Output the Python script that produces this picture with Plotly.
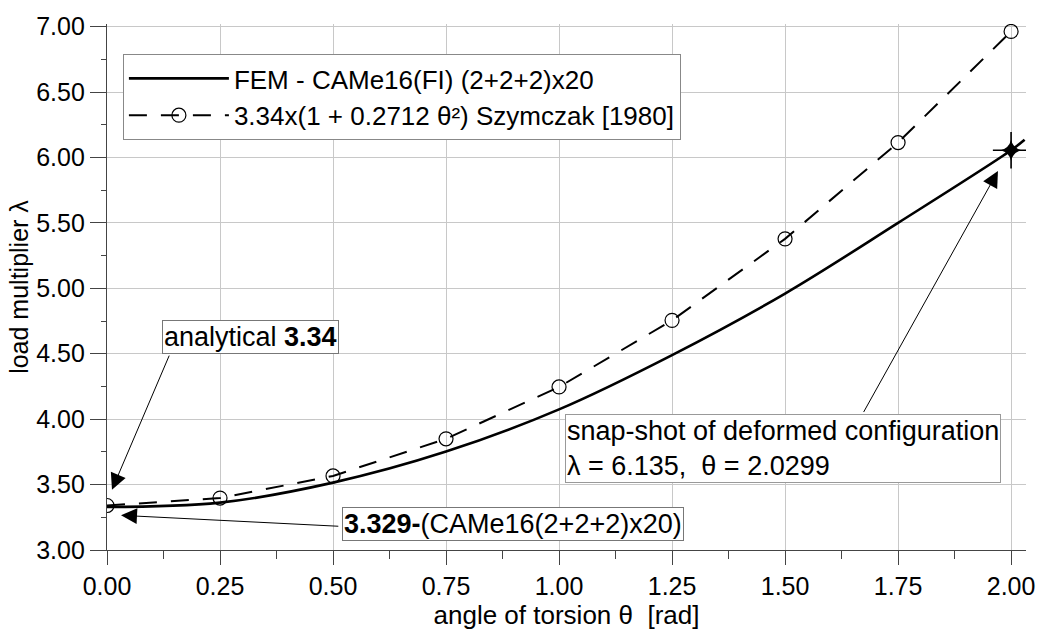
import plotly.graph_objects as go

# ---- data ----
fem_theta = [0.0, 0.25, 0.5, 0.75, 1.0, 1.25, 1.5, 1.75, 2.0, 2.0299]
fem_lambda = [3.329, 3.362, 3.515, 3.752, 4.075, 4.49, 4.96, 5.50, 6.055, 6.135]

szy_theta = [0.0, 0.25, 0.5, 0.75, 1.0, 1.25, 1.5, 1.75, 2.0]
szy_lambda = [3.340, 3.397, 3.566, 3.850, 4.246, 4.755, 5.378, 6.114, 6.963]

star_theta = [2.0]
star_lambda = [6.055]

x_ticks = [0.0, 0.25, 0.5, 0.75, 1.0, 1.25, 1.5, 1.75, 2.0]
x_ticklabels = ["0.00", "0.25", "0.50", "0.75", "1.00", "1.25", "1.50", "1.75", "2.00"]
y_ticks = [3.0, 3.5, 4.0, 4.5, 5.0, 5.5, 6.0, 6.5, 7.0]
y_ticklabels = ["3.00", "3.50", "4.00", "4.50", "5.00", "5.50", "6.00", "6.50", "7.00"]

FONT = "Liberation Sans, Arial, sans-serif"

fig = go.Figure()

fig.add_trace(go.Scatter(
    x=fem_theta, y=fem_lambda, mode="lines", line_shape="spline",
    line=dict(color="black", width=2.6),
    name="FEM - CAMe16(FI) (2+2+2)x20",
))
fig.add_trace(go.Scatter(
    x=szy_theta, y=szy_lambda, mode="lines+markers",
    line=dict(color="black", width=2, dash="18px,14px"),
    marker=dict(symbol="circle-open", size=14, color="black", line=dict(width=1.2)),
    name="3.34x(1 + 0.2712 θ²) Szymczak [1980]",
))
fig.add_trace(go.Scatter(
    x=star_theta, y=star_lambda, mode="markers",
    marker=dict(symbol="star-diamond", size=15, color="black"),
    showlegend=False, hoverinfo="skip",
))
fig.add_trace(go.Scatter(
    x=star_theta, y=star_lambda, mode="markers",
    marker=dict(symbol="cross-thin-open", size=26, color="black", line=dict(width=1.6, color="black")),
    showlegend=False,
))

ann_font = dict(family=FONT, size=27, color="black")

# boxes
fig.add_annotation(x=0.121, y=4.626, xref="x", yref="y", xanchor="left", yanchor="middle",
                   text="analytical <b>3.34</b>", showarrow=False, font=ann_font,
                   bgcolor="white", bordercolor="#777", borderwidth=1, borderpad=1)
fig.add_annotation(x=0.520, y=3.197, xref="x", yref="y", xanchor="left", yanchor="middle",
                   text="<b>3.329-</b>(CAMe16(2+2+2)x20)", showarrow=False, font=ann_font,
                   bgcolor="white", bordercolor="#777", borderwidth=1, borderpad=1)
fig.add_annotation(x=1.013, y=4.043, xref="x", yref="y", xanchor="left", yanchor="top",
                   text="snap-shot of deformed configuration<br>λ = 6.135,  θ = 2.0299",
                   align="left", showarrow=False, font=ann_font,
                   bgcolor="white", bordercolor="#999", borderwidth=1, borderpad=1)

# arrows
arrow_common = dict(xref="x", yref="y", axref="x", ayref="y", text="", showarrow=True,
                    arrowhead=2, arrowsize=3.2, arrowwidth=1, arrowcolor="black",
                    standoff=0, startstandoff=0)
fig.add_annotation(x=0.011, y=3.461, ax=0.139, ay=4.497, **arrow_common)
fig.add_annotation(x=0.031, y=3.265, ax=0.515, ay=3.181, **arrow_common)
fig.add_annotation(x=1.971, y=5.896, ax=1.672, ay=4.043, **arrow_common)

fig.update_layout(
    width=1047, height=632,
    margin=dict(l=107, r=17, t=22, b=81),
    paper_bgcolor="white", plot_bgcolor="white",
    font=dict(family=FONT, size=25, color="black"),
    legend=dict(
        x=0.0173, y=0.943, xanchor="left", yanchor="top",
        bgcolor="white", bordercolor="#888", borderwidth=1,
        font=dict(family=FONT, size=26, color="black"),
        itemwidth=100, tracegroupgap=0,
    ),
    showlegend=True,
)

fig.update_xaxes(
    range=[0, 2.033], tickvals=x_ticks, ticktext=x_ticklabels,
    showgrid=True, gridcolor="#c8c8c8", gridwidth=1,
    showline=True, linecolor="#444", linewidth=1.2,
    ticks="outside", ticklen=14, tickcolor="#444", tickwidth=1.2,
    minor=dict(dtick=0.125, tick0=0, ticks="outside", ticklen=8, tickcolor="#444", showgrid=False),
    zeroline=False,
    title=dict(text="angle of torsion θ  [rad]", font=dict(size=26), standoff=2),
    tickfont=dict(size=25),
)
fig.update_yaxes(
    range=[3, 7.02], tickvals=y_ticks, ticktext=y_ticklabels,
    showgrid=True, gridcolor="#c8c8c8", gridwidth=1,
    showline=True, linecolor="#444", linewidth=1.2,
    ticks="outside", ticklen=16, tickcolor="#444", tickwidth=1.2,
    minor=dict(dtick=0.25, tick0=3, ticks="outside", ticklen=5, tickcolor="#444", showgrid=False),
    zeroline=False,
    title=dict(text="load multiplier λ", font=dict(size=25), standoff=0),
    tickfont=dict(size=25),
)

fig.write_html("out.html")
